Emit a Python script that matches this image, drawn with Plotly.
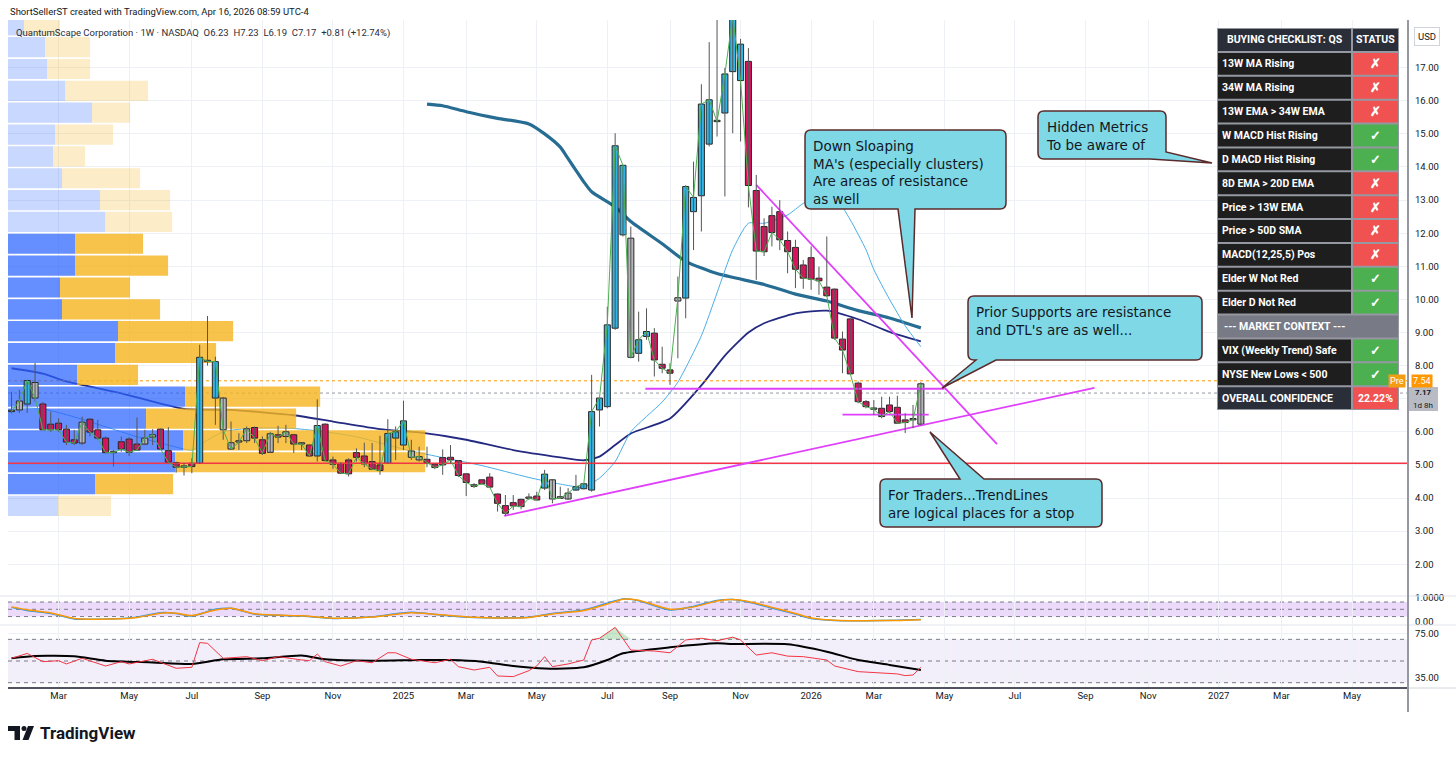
import pandas as pd
import plotly.graph_objects as go

FONT = "Roboto, Arial, sans-serif"
NOTE_FONT = "DejaVu Sans, Verdana, sans-serif"
GRID = "#edf0f5"
INK = "#131722"

# ---------------------------------------------------------------------------
# QS weekly bars (1W, NASDAQ), first bar = week of 2024-01-22
first_week = "2024-01-22"
opens = [
    6.61, 6.66, 6.84, 7.49, 6.84, 6.23, 6.26, 6.08, 5.76, 5.66,
    6.38, 6.06, 5.81, 5.37, 5.70, 5.78, 5.63, 5.63, 5.84, 6.08,
    5.43, 5.07, 4.93, 5.05, 5.05, 8.12, 7.02, 7.02, 5.67, 5.73,
    5.73, 6.13, 5.76, 5.38, 5.91, 5.86, 5.91, 5.63, 5.60, 5.27,
    6.23, 5.15, 5.05, 5.15, 5.37, 5.27, 5.10, 5.00, 5.05, 5.81,
    5.60, 5.42, 5.15, 5.17, 5.02, 5.22, 5.23, 5.13, 4.73, 4.40,
    4.55, 4.63, 4.12, 3.77, 3.86, 3.96, 3.99, 4.06, 4.30, 4.55,
    4.04, 3.97, 4.24, 4.28, 4.24, 6.66, 6.76, 9.13, 11.95, 11.85,
    8.37, 8.88, 8.98, 8.04, 7.87, 9.95, 10.04, 12.65, 13.13, 14.69,
    15.37, 15.63, 16.88, 17.71, 17.19, 13.29, 12.20, 12.53, 12.65, 11.78,
    11.57, 11.04, 11.26, 10.64, 10.37, 10.31, 8.80, 9.41, 7.47, 6.91,
    6.68, 6.71, 6.81, 6.74, 6.36, 6.38, 6.23]
highs = [
    7.21, 7.27, 7.57, 8.08, 6.90, 6.61, 6.41, 6.21, 6.06, 6.46,
    6.41, 6.36, 5.86, 5.45, 5.86, 5.84, 6.43, 6.06, 6.08, 6.10,
    6.14, 5.10, 5.05, 5.20, 8.63, 9.50, 8.27, 7.05, 6.31, 5.96,
    6.16, 6.16, 5.86, 6.00, 6.18, 6.21, 5.94, 5.66, 5.62, 6.98,
    6.26, 5.25, 5.07, 5.20, 5.50, 5.67, 5.66, 5.88, 6.38, 6.16,
    6.94, 5.76, 5.55, 5.55, 5.04, 5.47, 5.60, 5.15, 4.75, 4.45,
    4.56, 4.75, 4.14, 4.09, 4.09, 3.98, 4.14, 4.19, 4.85, 4.57,
    4.34, 4.30, 4.70, 4.45, 7.72, 7.06, 9.78, 15.02, 14.05, 12.20,
    9.63, 9.73, 9.13, 8.57, 8.07, 10.69, 13.45, 14.16, 16.50, 17.77,
    18.45, 16.99, 18.60, 17.87, 17.59, 13.76, 12.45, 12.80, 13.00, 12.05,
    11.80, 11.19, 11.60, 10.99, 11.90, 10.33, 9.03, 9.43, 7.52, 6.96,
    6.96, 7.06, 7.06, 7.09, 6.56, 6.81, 7.50]
lows = [
    6.56, 6.57, 6.57, 6.91, 6.06, 6.00, 6.00, 5.60, 5.60, 5.60,
    5.86, 5.76, 5.35, 4.95, 5.40, 5.27, 5.45, 5.60, 5.60, 5.45,
    5.05, 4.77, 4.68, 4.75, 5.03, 8.00, 6.21, 5.76, 5.45, 5.45,
    5.66, 5.66, 5.30, 5.36, 5.66, 5.66, 5.36, 5.45, 5.25, 5.10,
    5.10, 4.88, 4.73, 4.65, 5.10, 4.93, 4.85, 4.70, 5.03, 5.15,
    5.45, 5.15, 5.10, 4.93, 4.87, 4.70, 5.05, 4.63, 4.06, 4.30,
    4.40, 4.30, 3.59, 3.46, 3.64, 3.66, 3.94, 3.93, 4.24, 3.84,
    3.97, 3.95, 4.22, 4.26, 4.19, 6.16, 6.71, 9.08, 11.90, 8.22,
    8.12, 8.78, 7.67, 7.77, 7.42, 8.22, 9.43, 11.49, 12.05, 14.62,
    14.92, 13.11, 15.02, 14.77, 12.78, 10.59, 11.31, 11.60, 11.49, 10.79,
    10.34, 10.32, 10.29, 10.14, 10.07, 8.78, 7.77, 7.73, 6.86, 6.71,
    6.51, 6.41, 6.56, 6.24, 5.96, 6.11, 6.19]
closes = [
    6.61, 6.93, 7.55, 7.02, 6.06, 6.06, 6.06, 5.69, 5.66, 6.29,
    5.99, 5.81, 5.37, 5.37, 5.48, 5.38, 5.45, 5.81, 5.91, 5.48,
    5.08, 4.93, 4.93, 4.95, 8.25, 8.12, 8.12, 6.06, 5.48, 5.69,
    6.09, 5.81, 5.35, 5.94, 5.84, 6.00, 5.63, 5.63, 5.27, 6.19,
    5.13, 5.02, 4.75, 4.73, 5.23, 5.03, 4.87, 4.83, 5.95, 6.00,
    6.33, 5.23, 5.25, 5.07, 4.92, 5.00, 5.15, 4.68, 4.47, 4.35,
    4.43, 4.33, 3.84, 3.54, 3.76, 3.74, 3.99, 3.94, 4.72, 3.97,
    3.99, 4.15, 4.34, 4.43, 6.61, 7.02, 9.23, 14.64, 14.05, 8.25,
    8.78, 9.03, 8.17, 7.92, 7.77, 10.05, 13.41, 13.08, 15.90, 16.03,
    15.37, 16.81, 18.55, 16.61, 13.44, 11.46, 11.44, 12.02, 11.80, 11.44,
    10.91, 10.64, 10.61, 10.56, 10.11, 8.83, 8.47, 7.75, 6.91, 6.76,
    6.68, 6.46, 6.61, 6.26, 6.28, 6.36, 7.45]
# bar colouring: u = blue, d = pink, n = grey
bar_colors = ("nnundddddn" "dddndddnnd" "ddndununnn" "nddndndndu" "dddddddduu"
              "unnddddddd" "ddddddndun" "nnuuuuuuun" "uudddnuuuu" "nuuudddddd"
              "dddddddddd" "nddddnn")

# moving averages, sampled at bar indices
ma_fast_idx = [0, 4, 8, 12, 16, 20, 23, 25, 27, 30, 33, 36, 40, 44, 48, 51, 55, 60, 66, 70,
               73, 75, 77, 79, 83, 85, 88, 90, 92, 94, 96, 99, 101, 103, 105, 107, 109, 110,
               112, 114, 116]
ma_fast = [6.73, 6.69, 6.45, 6.15, 5.85, 5.6, 5.45, 5.75, 6.0, 6.1, 6.12, 6.1, 6.0, 5.85,
           5.6, 5.42, 5.22, 4.98, 4.62, 4.42, 4.33, 4.6, 5.1, 6.0, 6.9, 7.5, 8.9, 10.2, 11.5,
           12.3, 12.3, 12.55, 12.9, 13.1, 13.1, 12.4, 11.5, 10.9, 10.0, 9.2, 8.57]
ma_mid_idx = [0, 4, 7, 14, 22, 28, 36, 41, 47, 52, 58, 64, 70, 73, 75, 77, 79, 84, 88, 91,
              94, 96, 100, 104, 108, 112, 116]
ma_mid = [7.92, 7.76, 7.52, 7.16, 6.69, 6.66, 6.5, 6.31, 6.08, 5.98, 5.76, 5.45, 5.23, 5.14,
          5.25, 5.6, 5.95, 6.4, 7.4, 8.3, 9.0, 9.28, 9.58, 9.66, 9.4, 9.02, 8.73]
ma_slow_idx = [53, 55, 58, 62, 66, 68, 70, 71, 72, 73, 74, 77, 79, 83, 86, 90, 96, 100, 104,
               108, 112, 116]
ma_slow = [15.90, 15.85, 15.67, 15.47, 15.30, 15.0, 14.6, 14.25, 13.9, 13.55, 13.25, 12.8,
           12.35, 11.68, 11.15, 10.78, 10.45, 10.16, 9.95, 9.66, 9.44, 9.14]

# stochastic-style oscillator (pane 1)
stoch_idx = [0, 2, 5, 8, 11, 14, 16, 19, 21, 23, 26, 28, 31, 34, 37, 41, 46, 51, 56, 59,
             62, 66, 69, 73, 76, 78, 80, 84, 87, 90, 92, 94, 97, 100, 102, 105, 109, 113, 116]
stoch_k = [0.58, 0.45, 0.33, 0.10, 0.09, 0.12, 0.17, 0.36, 0.33, 0.22, 0.50, 0.54, 0.30,
           0.25, 0.22, 0.12, 0.19, 0.38, 0.22, 0.16, 0.14, 0.17, 0.33, 0.47, 0.75, 0.93,
           0.85, 0.47, 0.62, 0.86, 0.90, 0.80, 0.55, 0.30, 0.12, 0.04, 0.03, 0.05, 0.08]
stoch_d = [0.60, 0.48, 0.35, 0.12, 0.09, 0.11, 0.16, 0.34, 0.34, 0.24, 0.47, 0.54, 0.32,
           0.26, 0.23, 0.13, 0.18, 0.36, 0.24, 0.17, 0.14, 0.16, 0.31, 0.45, 0.72, 0.92,
           0.87, 0.50, 0.60, 0.84, 0.90, 0.82, 0.58, 0.33, 0.14, 0.05, 0.03, 0.04, 0.07]

# RSI and its moving average (pane 2)
rsi_idx = [0, 2, 4, 6, 7, 9, 12, 14, 15, 18, 21, 23, 24, 25, 27, 30, 32, 34, 37, 38,
           39, 40, 42, 44, 46, 48, 49, 51, 54, 56, 57, 59, 61, 62, 64, 66, 67, 68, 69, 71,
           73, 74, 75, 77, 79, 82, 84, 86, 88, 90, 92, 93, 95, 97, 99, 101, 104, 105, 108,
           111, 113, 114, 115, 116]
rsi = [52.5, 57, 49.4, 50.3, 47.3, 52.5, 45.4, 49.4, 47.3, 51.6, 43.3, 44.2, 67, 66.3,
       52.5, 54, 50.3, 54, 51, 50.3, 56.4, 49.4, 45.4, 50.3, 48.4, 57.6, 57.6, 51.6, 48.4,
       51.6, 44.8, 41.7, 44.2, 36.2, 35.6, 41.1, 45.4, 54, 44.8, 47.3, 50.9, 69.4, 71, 81,
       60.1, 59.2, 57.6, 69.4, 71, 68.7, 72, 69.4, 55.5, 57.6, 54.5, 54, 50.9, 45.4, 40.2,
       38.7, 38.1, 36.5, 37.1, 44.2]
rsi_ma_idx = [0, 3, 8, 12, 18, 23, 27, 32, 37, 40, 46, 52, 56, 60, 64, 68, 73, 76, 78, 84,
              90, 92, 99, 104, 108, 112, 116]
rsi_ma = [52.5, 54.6, 54.3, 50.3, 48.7, 47.3, 51.6, 52.5, 55, 51.6, 50.3, 50.9, 50.9, 49.4,
          45.4, 43, 44.2, 50.9, 57.1, 62.6, 66.3, 65.7, 65.4, 58.6, 50.9, 46.4, 41.7]

# visible-range volume profile: row price, up volume, down volume
vp_price = [3.76, 4.42, 5.08, 5.74, 6.40, 7.06, 7.72, 8.38, 9.04, 9.70, 10.36, 11.02,
            11.68, 12.34, 13.00, 13.66, 14.32, 14.98, 15.64, 16.30, 16.96, 17.62, 18.28]
vp_up = [50, 87, 167, 175, 138, 177, 69, 107, 110, 54, 52, 67, 67, 97, 92, 54, 45, 47,
         84, 57, 39, 37, 16]
vp_down = [53, 78, 250, 242, 150, 135, 61, 101, 115, 98, 70, 93, 68, 67, 70, 78, 32, 58,
           38, 83, 43, 45, 36]
vp_value_area = [0, 1, 1, 1, 1, 1, 1, 1, 1, 1, 1, 1, 1, 0, 0, 0, 0, 0, 0, 0, 0, 0, 0]
vp_width_frac = 0.298

# levels and drawn trend lines
support_level = 5.05
pre_price = 7.54
last_price = 7.17
tl_support = (["2025-04-06", "2026-09-15"], [3.46, 7.33])
tl_flat_high = (["2025-08-10", "2026-05-04"], [7.30, 7.30])
tl_flat_low = (["2026-02-02", "2026-04-20"], [6.52, 6.52])
tl_down = (["2025-11-17", "2026-06-20"], [13.46, 5.63])

tick_dates = ["2024-03-04", "2024-05-06", "2024-07-01", "2024-09-02", "2024-11-04",
              "2025-01-06", "2025-03-03", "2025-05-05", "2025-07-07", "2025-09-01",
              "2025-11-03", "2026-01-05", "2026-03-02", "2026-05-04", "2026-07-06",
              "2026-09-07", "2026-11-02", "2027-01-04", "2027-03-01", "2027-05-03"]
tick_labels = ["Mar", "May", "Jul", "Sep", "Nov", "2025", "Mar", "May", "Jul", "Sep",
               "Nov", "2026", "Mar", "May", "Jul", "Sep", "Nov", "2027", "Mar", "May"]
price_ticks = [2, 3, 4, 5, 6, 7, 8, 9, 10, 11, 12, 13, 14, 15, 16, 17]
hidden_price_ticks = [7]   # sits under the last-price badge on the scale

checklist_items = ["13W MA Rising", "34W MA Rising", "13W EMA > 34W EMA", "W MACD Hist Rising",
                   "D MACD Hist Rising", "8D EMA > 20D EMA", "Price > 13W EMA",
                   "Price > 50D SMA", "MACD(12,25,5) Pos", "Elder W Not Red",
                   "Elder D Not Red"]
checklist_pass = [False, False, False, True, True, False, False, False, False, True, True]
market_items = ["VIX (Weekly Trend) Safe", "NYSE New Lows < 500"]
market_pass = [True, True]
overall_confidence = 22.22

header_author = "ShortSellerST created with TradingView.com, Apr 16, 2026 08:59 UTC-4"
symbol_name = "QuantumScape Corporation · 1W · NASDAQ"
ohlc_text = "O6.23&nbsp; H7.23&nbsp; L6.19&nbsp; C7.17&nbsp; +0.81 (+12.74%)"

notes = [
    dict(box=(805, 130, 1006, 209), edge="bottom", base=(898, 915), tip=(912, 318),
         text="Down Sloaping<br>MA's (especially clusters)<br>Are areas of resistance<br>as well"),
    dict(box=(1038, 111, 1166, 159), edge="corner", base=(152, 1150), tip=(1212, 163),
         text="Hidden Metrics<br>To be aware of"),
    dict(box=(968, 296, 1202, 360), edge="bottom", base=(976, 996), tip=(942, 388),
         text="Prior Supports are resistance<br>and DTL's are as well..."),
    dict(box=(880, 479, 1102, 527), edge="top", base=(960, 984), tip=(930, 432),
         text="For Traders...TrendLines<br>are logical places for a stop"),
]

# ---------------------------------------------------------------------------
W, H = 1456, 757
ML, MR, MT, MB = 8, 48, 20, 69
PW, PH = W - ML - MR, H - MT - MB
x_range = ["2024-01-18 20:00", "2027-06-22"]
DAY_MS = 86400000


def xp(px):
    return (px - ML) / PW


def yp(py):
    return (H - MB - py) / PH


dates = pd.date_range(first_week, periods=len(opens), freq="7D")


def at(idx):
    return [dates[i] for i in idx]


fig = go.Figure()

# moving averages (drawn under the volume profile)
fig.add_trace(go.Scatter(x=at(ma_slow_idx), y=ma_slow, mode="lines",
                         line=dict(color="#276d93", width=3.2, shape="spline", smoothing=0.6)))
fig.add_trace(go.Scatter(x=at(ma_mid_idx), y=ma_mid, mode="lines",
                         line=dict(color="#242a82", width=1.8, shape="spline", smoothing=0.6)))
fig.add_trace(go.Scatter(x=at(ma_fast_idx), y=ma_fast, mode="lines",
                         line=dict(color="#4aaee8", width=1, shape="spline", smoothing=0.6)))
fig.add_trace(go.Scatter(x=x_range, y=[pre_price] * 2, mode="lines",
                         line=dict(color="#ff9800", width=1, dash="dot")))
fig.add_trace(go.Scatter(x=x_range, y=[last_price] * 2, mode="lines",
                         line=dict(color="#9598a1", width=1, dash="dot")))

# volume profile on its own overlaid x axis
up_col = ["rgba(41,98,255,0.72)" if va else "rgba(41,98,255,0.25)" for va in vp_value_area]
dn_col = ["rgba(245,180,30,0.8)" if va else "rgba(245,180,30,0.25)" for va in vp_value_area]
fig.add_trace(go.Bar(y=vp_price, x=vp_up, base=[0] * len(vp_up), orientation="h",
                     width=0.61, marker=dict(color=up_col, line=dict(width=0)),
                     xaxis="x2", yaxis="y"))
fig.add_trace(go.Bar(y=vp_price, x=vp_down, base=vp_up, orientation="h",
                     width=0.61, marker=dict(color=dn_col, line=dict(width=0)),
                     xaxis="x2", yaxis="y"))

# levels, trend lines, candles, close line on top
fig.add_trace(go.Scatter(x=x_range, y=[support_level] * 2, mode="lines",
                         line=dict(color="#f23645", width=1.5), xaxis="x3"))
for tl in (tl_support, tl_flat_high, tl_flat_low, tl_down):
    fig.add_trace(go.Scatter(x=tl[0], y=tl[1], mode="lines",
                             line=dict(color="#e040fb", width=1.8), xaxis="x3"))

# wicks
wick_x, wick_y = [], []
for d, lo, hi in zip(dates, lows, highs):
    wick_x += [d, d, None]
    wick_y += [lo, hi, None]
fig.add_trace(go.Scatter(x=wick_x, y=wick_y, mode="lines",
                         line=dict(color="#555555", width=1), xaxis="x3"))

# bodies
palette = {"u": "#33b4e4", "d": "#e0115f", "n": "#b4b6ba"}
for code, col in palette.items():
    idx = [i for i, c in enumerate(bar_colors) if c == code]
    bottoms = [min(opens[i], closes[i]) for i in idx]
    heights = [max(abs(closes[i] - opens[i]), 0.04) for i in idx]
    fig.add_trace(go.Bar(x=at(idx), y=heights, base=bottoms, width=5.4 * DAY_MS,
                         marker=dict(color=col, line=dict(color="#262626", width=1)),
                         xaxis="x3", yaxis="y"))
fig.add_trace(go.Scatter(x=dates, y=closes, mode="lines",
                         line=dict(color="#4caf50", width=1), xaxis="x3"))

# pane 1: oscillator
fig.add_trace(go.Scatter(x=at(stoch_idx), y=stoch_k, mode="lines", yaxis="y2",
                         line=dict(color="#2196f3", width=1.5, shape="spline", smoothing=0.6)))
fig.add_trace(go.Scatter(x=at(stoch_idx), y=stoch_d, mode="lines", yaxis="y2",
                         line=dict(color="#ff9800", width=1.5, shape="spline", smoothing=0.6)))

# pane 2: RSI
fig.add_trace(go.Scatter(x=at(rsi_idx), y=[70] * len(rsi_idx), mode="lines", yaxis="y3",
                         line=dict(width=0)))
fig.add_trace(go.Scatter(x=at(rsi_idx), y=[max(v, 70) for v in rsi], mode="lines", yaxis="y3",
                         line=dict(width=0), fill="tonexty", fillcolor="rgba(76,175,80,0.3)"))
fig.add_trace(go.Scatter(x=at(rsi_ma_idx), y=rsi_ma, mode="lines", yaxis="y3",
                         line=dict(color="#000000", width=2, shape="spline", smoothing=0.6)))
fig.add_trace(go.Scatter(x=at(rsi_idx), y=rsi, mode="lines", yaxis="y3",
                         line=dict(color="#f23645", width=1)))

# ---------------------------------------------------------------------------
shapes = []
annotations = []


def rect(x0, y0, x1, y1, fill, line=None, layer="above"):
    shapes.append(dict(type="rect", xref="paper", yref="paper", x0=xp(x0), x1=xp(x1),
                       y0=yp(y1), y1=yp(y0), fillcolor=fill, layer=layer,
                       line=line or dict(width=0)))


def hline(x0, x1, y, color, width=1):
    shapes.append(dict(type="line", xref="paper", yref="paper", x0=xp(x0), x1=xp(x1),
                       y0=yp(y), y1=yp(y), line=dict(color=color, width=width), layer="above"))


def label(x, y, text, size=10.5, color="white", xanchor="center", yanchor="middle",
          family=FONT, **kw):
    annotations.append(dict(xref="paper", yref="paper", x=xp(x), y=yp(y), text=text,
                            showarrow=False, xanchor=xanchor, yanchor=yanchor,
                            font=dict(family=family, size=size, color=color), **kw))


# pane bands and dashed levels
shapes.append(dict(type="rect", xref="x domain", yref="y2", x0=0, x1=1, y0=0.2, y1=0.8,
                   fillcolor="#ecdafb", line=dict(width=0), layer="below"))
shapes.append(dict(type="rect", xref="x domain", yref="y3", x0=0, x1=1, y0=30, y1=70,
                   fillcolor="#f2eefa", line=dict(width=0), layer="below"))
for yref, levels in (("y2", (0.8, 0.5, 0.2)), ("y3", (70, 50, 30))):
    for v in levels:
        shapes.append(dict(type="line", xref="x domain", yref=yref, x0=0, x1=1, y0=v, y1=v,
                           line=dict(color="#787b86", width=1, dash="4px,4px"), layer="below"))

# frame lines
hline(0, W, 596, "#e0e3eb")
hline(0, W, 625, "#e0e3eb")
hline(ML, ML + PW, 688, "#50535e", 2)
hline(ML + PW, W, 688, "#d1d4dc", 1)
shapes.append(dict(type="line", xref="paper", yref="paper", x0=1, x1=1, y0=yp(712), y1=1,
                   line=dict(color="#9598a1", width=2), layer="above"))


# callouts
def callout_path(box, edge, base, tip, r=6):
    x0, y0, x1, y1 = box

    def P(x, y):
        return f"{xp(x):.5f},{yp(y):.5f}"

    d = [f"M{P(x0 + r, y0)}"]
    if edge == "top":
        d += [f"L{P(base[0], y0)}", f"L{P(*tip)}", f"L{P(base[1], y0)}"]
    d += [f"L{P(x1 - r, y0)}", f"Q{P(x1, y0)} {P(x1, y0 + r)}"]
    if edge == "corner":
        d += [f"L{P(x1, base[0])}", f"L{P(*tip)}", f"L{P(base[1], y1)}"]
    else:
        d += [f"L{P(x1, y1 - r)}", f"Q{P(x1, y1)} {P(x1 - r, y1)}"]
        if edge == "bottom":
            d += [f"L{P(base[1], y1)}", f"L{P(*tip)}", f"L{P(base[0], y1)}"]
    d += [f"L{P(x0 + r, y1)}", f"Q{P(x0, y1)} {P(x0, y1 - r)}",
          f"L{P(x0, y0 + r)}", f"Q{P(x0, y0)} {P(x0 + r, y0)}", "Z"]
    return " ".join(d)


for n in notes:
    shapes.append(dict(type="path", xref="paper", yref="paper",
                       path=callout_path(n["box"], n["edge"], n["base"], n["tip"]),
                       fillcolor="#7fd8e6", line=dict(color="#5b2a2a", width=1.5),
                       layer="above"))
    label(n["box"][0] + 6, n["box"][1] + 6, n["text"], size=13.5, color=INK,
          xanchor="left", yanchor="top", family=NOTE_FONT, align="left")

# checklist table
TX0, TXM, TX1, TY0, ROW_H = 1217, 1352, 1399, 28, 23.875
rows = [("BUYING CHECKLIST: QS", "STATUS", "head")]
rows += [(n, "✓" if ok else "✗", "pass" if ok else "fail")
         for n, ok in zip(checklist_items, checklist_pass)]
rows.append(("--- MARKET CONTEXT ---", "", "section"))
rows += [(n, "✓" if ok else "✗", "pass" if ok else "fail")
         for n, ok in zip(market_items, market_pass)]
rows.append(("OVERALL CONFIDENCE", f"{overall_confidence:.2f}%", "total"))

rect(TX0, TY0, TX1, TY0 + ROW_H * len(rows), "#9598a1")
for r, (name, status, kind) in enumerate(rows):
    y0 = TY0 + r * ROW_H
    y1 = y0 + ROW_H
    yc = (y0 + y1) / 2
    if kind == "section":
        rect(TX0 + 1, y0 + 1, TX1 - 1, y1 - 1, "#787b86")
        label((TX0 + TXM) / 2, yc, f"<b>{name}</b>")
        continue
    left_fill = "#2a2e39" if kind in ("head", "total") else "#1e1e1e"
    right_fill = {"head": "#2a2e39", "pass": "#4caf50"}.get(kind, "#f05252")
    rect(TX0 + 1, y0 + 1, TXM - 1, y1 - 1, left_fill)
    rect(TXM + 1, y0 + 1, TX1 - 1, y1 - 1, right_fill)
    if kind == "head":
        label((TX0 + TXM) / 2, yc, f"<b>{name}</b>")
    else:
        label(TX0 + 3, yc, f"<b>{name}</b>", xanchor="left")
    label((TXM + TX1) / 2, yc, f"<b>{status}</b>",
          size=12.5 if kind in ("pass", "fail") else 10.5)

# price scale badges
label(1427, 37, "USD", size=9.5, color=INK, bgcolor="white", bordercolor="#d1d4dc",
      borderwidth=1, borderpad=3)
label(1397, 380.5, "Pre", size=9, bgcolor="#f59d12", borderpad=1)
label(1422, 380.5, f"{pre_price:.2f}", size=9, bgcolor="#ff9800", borderpad=1)
rect(1409, 387, 1438, 411, "#b8bbc4")
label(1423, 392, f"<b>{last_price:.2f}</b>", size=8, color=INK, borderpad=0)
label(1423, 405, "1d 8h", size=8, color=INK, borderpad=0)

# header and logo
label(8, 12, header_author, size=9.5, color=INK, xanchor="left")
label(14, 33, f"{symbol_name}&nbsp;&nbsp;{ohlc_text}", size=9.5, color="#2a2e39",
      xanchor="left")
rect(8, 726, 20, 731, INK)
rect(14.5, 726, 20, 740, INK)
shapes.append(dict(type="circle", xref="paper", yref="paper", x0=xp(21.5), x1=xp(26.5),
                   y0=yp(731), y1=yp(726), fillcolor=INK, line=dict(width=0)))
shapes.append(dict(type="path", xref="paper", yref="paper",
                   path=f"M{xp(28):.5f},{yp(726):.5f} L{xp(34):.5f},{yp(726):.5f} "
                        f"L{xp(28.5):.5f},{yp(740):.5f} L{xp(22.5):.5f},{yp(740):.5f} Z",
                   fillcolor=INK, line=dict(width=0)))
label(38, 733, "<b>TradingView</b>", size=17, color=INK, xanchor="left")

tickfont = dict(family=FONT, size=9.5, color=INK)
vp_max = max(u + d for u, d in zip(vp_up, vp_down))
price_ticktext = ["" if v in hidden_price_ticks else f"{v:.2f}" for v in price_ticks]
fig.update_layout(
    width=W, height=H, margin=dict(l=ML, r=MR, t=MT, b=MB),
    paper_bgcolor="white", plot_bgcolor="white", showlegend=False,
    barmode="overlay", hovermode=False,
    xaxis=dict(type="date", range=x_range, tickvals=tick_dates, ticktext=tick_labels,
               showgrid=True, gridcolor=GRID, zeroline=False, showline=False, ticks="",
               anchor="y3", tickfont=tickfont),
    xaxis2=dict(overlaying="x", anchor="y", range=[0, vp_max / vp_width_frac],
                visible=False, showgrid=False),
    xaxis3=dict(overlaying="x", anchor="y", type="date", range=x_range, visible=False,
                showgrid=False),
    yaxis=dict(domain=[yp(595), 1], range=[1.07, 18.44], side="right", anchor="x",
               tickvals=price_ticks, ticktext=price_ticktext, showgrid=True, gridcolor=GRID,
               zeroline=False, ticks="", tickfont=tickfont, ticklabelstandoff=6),
    yaxis2=dict(domain=[yp(624), yp(597)], range=[-0.107, 1.008], side="right", anchor="x",
                tickvals=[0, 1], ticktext=["0.00", "1.0000"], showgrid=False,
                zeroline=False, ticks="", tickfont=tickfont, ticklabelstandoff=6),
    yaxis3=dict(domain=[0, yp(626)], range=[25.1, 82.3], side="right", anchor="x",
                tickvals=[35, 75], ticktext=["35.00", "75.00"], showgrid=True,
                gridcolor=GRID, zeroline=False, ticks="", tickfont=tickfont,
                ticklabelstandoff=6),
    shapes=shapes, annotations=annotations,
)

fig.write_html("out.html", config={"displayModeBar": False},
               post_script="document.body.style.margin='0';document.body.style.overflow='hidden';")
